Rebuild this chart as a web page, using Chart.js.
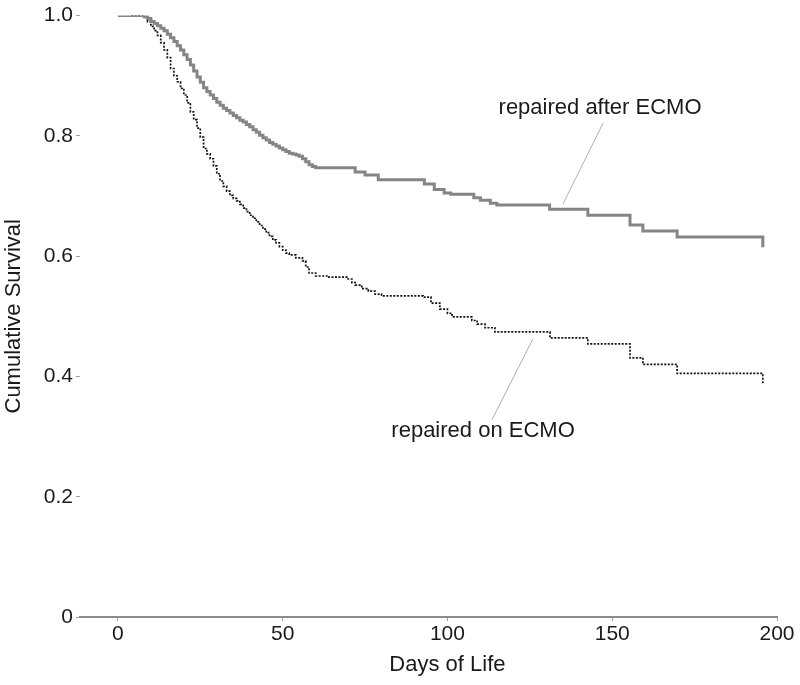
<!DOCTYPE html>
<html>
<head>
<meta charset="utf-8">
<script src="https://cdn.jsdelivr.net/npm/chart.js@4"></script>
<style>
  html, body { margin: 0; background: #fff; }
</style>
</head>
<body>
<canvas id="myChart" width="800" height="685"></canvas>
<script>
// Kaplan-Meier steps: day of event, survival after it
const afterDays = [0, 8, 9, 10, 11, 12, 13, 14, 15, 16, 17, 18, 19, 20, 21, 22, 23, 24, 25, 26, 27, 28, 29, 30, 31, 32, 33, 34, 35, 36, 37, 38, 39, 40, 41, 42, 43, 44, 45, 46, 47, 48, 49, 50, 51, 52, 53, 54, 55, 56, 57, 58, 59, 60, 72, 75, 79, 93, 96, 99, 101, 108, 110, 113, 115, 131, 142.6, 155.4, 159.3, 169.7, 195.7];
const afterSurv = [1.0, 0.998, 0.995, 0.99, 0.987, 0.983, 0.979, 0.975, 0.969, 0.963, 0.957, 0.95, 0.943, 0.935, 0.927, 0.918, 0.908, 0.898, 0.889, 0.88, 0.874, 0.868, 0.862, 0.856, 0.851, 0.846, 0.842, 0.838, 0.834, 0.83, 0.826, 0.823, 0.819, 0.815, 0.81, 0.806, 0.801, 0.797, 0.793, 0.789, 0.786, 0.783, 0.78, 0.777, 0.774, 0.771, 0.77, 0.768, 0.766, 0.762, 0.757, 0.752, 0.749, 0.747, 0.74, 0.735, 0.727, 0.72, 0.711, 0.705, 0.703, 0.697, 0.693, 0.688, 0.685, 0.678, 0.668, 0.652, 0.642, 0.632, 0.615];

const onDays = [4, 8, 9, 10, 11, 12, 13, 14, 15, 16, 17, 18, 19, 20, 21, 22, 23, 24, 25, 26, 27, 28, 29, 30, 31, 32, 33, 34, 35, 36, 37, 38, 39, 40, 41, 42, 43, 44, 45, 46, 47, 48, 49, 50, 51, 52, 54, 56, 57, 58, 60, 64, 69.5, 71, 72, 74, 76, 78, 80, 92.6, 95, 97.7, 100, 101.4, 107.4, 109, 111.4, 114.4, 131.1, 142.6, 155.4, 159.3, 169.7, 195.7];
const onSurv = [1.0, 0.997, 0.99, 0.982, 0.975, 0.967, 0.955, 0.943, 0.93, 0.912, 0.9, 0.89, 0.879, 0.868, 0.855, 0.84, 0.827, 0.813, 0.798, 0.779, 0.77, 0.762, 0.75, 0.737, 0.725, 0.716, 0.708, 0.701, 0.696, 0.692, 0.686, 0.68, 0.674, 0.668, 0.663, 0.657, 0.651, 0.645, 0.639, 0.633, 0.627, 0.622, 0.616, 0.61, 0.605, 0.602, 0.597, 0.592, 0.582, 0.572, 0.567, 0.565, 0.562, 0.556, 0.552, 0.546, 0.542, 0.537, 0.534, 0.532, 0.522, 0.512, 0.505, 0.499, 0.493, 0.487, 0.481, 0.474, 0.464, 0.454, 0.431, 0.42, 0.405, 0.386];

const seriesNames = ['repaired after ECMO', 'repaired on ECMO'];
const xTitle = 'Days of Life';
const yTitle = 'Cumulative Survival';
const xTicks = [0, 50, 100, 150, 200];
const yTicks = [0, 0.2, 0.4, 0.6, 0.8, 1.0];
const yTickLabels = ['0', '0.2', '0.4', '0.6', '0.8', '1.0'];

// label anchors and leader lines, in data units
const labelSpots = [[146.3, 0.846], [110.8, 0.31]];
const leaderLines = [[147.2, 0.821, 135.1, 0.687], [126, 0.463, 113.5, 0.328]];

const ctx = document.getElementById('myChart');
const fontFamily = '"Liberation Sans", Arial, sans-serif';
const textColor = '#1a1a1a';

const toPoints = (xs, ys) => xs.map((x, i) => ({x: x, y: ys[i]}));

const curveLabels = {
  id: 'curveLabels',
  afterDraw(chart) {
    const c = chart.ctx, xs = chart.scales.x, ys = chart.scales.y;
    c.save();
    c.strokeStyle = '#b0b0b0';
    c.lineWidth = 1;
    leaderLines.forEach(l => {
      c.beginPath();
      c.moveTo(xs.getPixelForValue(l[0]), ys.getPixelForValue(l[1]));
      c.lineTo(xs.getPixelForValue(l[2]), ys.getPixelForValue(l[3]));
      c.stroke();
    });
    c.fillStyle = textColor;
    c.font = '22px ' + fontFamily;
    c.textAlign = 'center';
    c.textBaseline = 'middle';
    labelSpots.forEach((p, i) => {
      c.fillText(seriesNames[i], xs.getPixelForValue(p[0]), ys.getPixelForValue(p[1]));
    });
    // x title sits under the 0..200 span, not under the whole axis line
    const mid = (xTicks[0] + xTicks[xTicks.length - 1]) / 2;
    c.fillText(xTitle, xs.getPixelForValue(mid), xs.bottom - 20);
    c.restore();
  }
};

var myChart = new Chart(ctx, {
  type: 'line',
  data: {
    datasets: [
      {
        label: seriesNames[0],
        data: toPoints(afterDays, afterSurv),
        borderColor: '#858585',
        borderWidth: 3,
        stepped: 'before',
        pointRadius: 0,
        fill: false
      },
      {
        label: seriesNames[1],
        data: toPoints(onDays, onSurv),
        borderColor: '#111',
        borderWidth: 1.7,
        borderDash: [2, 1.5],
        stepped: 'before',
        pointRadius: 0,
        fill: false
      }
    ]
  },
  options: {
    responsive: false,
    animation: false,
    layout: { padding: { top: 14, right: 23, bottom: 0, left: 0 } },
    plugins: { legend: { display: false }, tooltip: { enabled: false } },
    scales: {
      x: {
        type: 'linear',
        min: -11.5,
        max: 200,
        afterBuildTicks: s => { s.ticks = xTicks.map(v => ({value: v})); },
        afterFit: s => { s.height = 68; },
        ticks: { color: textColor, font: { size: 21, family: fontFamily }, padding: 1, maxRotation: 0, autoSkip: false },
        grid: { drawOnChartArea: false, drawTicks: true, tickLength: 4, color: '#a0a0a0' },
        border: { display: true, color: '#8c8c8c', width: 2 },
        title: { display: false }
      },
      y: {
        min: 0,
        max: 1,
        afterBuildTicks: s => { s.ticks = yTicks.map(v => ({value: v})); },
        afterFit: s => { s.width = 80; },
        ticks: {
          color: textColor,
          font: { size: 21, family: fontFamily },
          padding: 3,
          callback: v => yTickLabels[yTicks.indexOf(v)]
        },
        grid: { drawOnChartArea: false, drawTicks: true, tickLength: 4, color: '#a0a0a0' },
        border: { display: false },
        title: { display: true, text: yTitle, color: textColor, font: { size: 22, family: fontFamily }, padding: { top: 1, bottom: 0 } }
      }
    }
  },
  plugins: [curveLabels]
});
</script>
</body>
</html>
